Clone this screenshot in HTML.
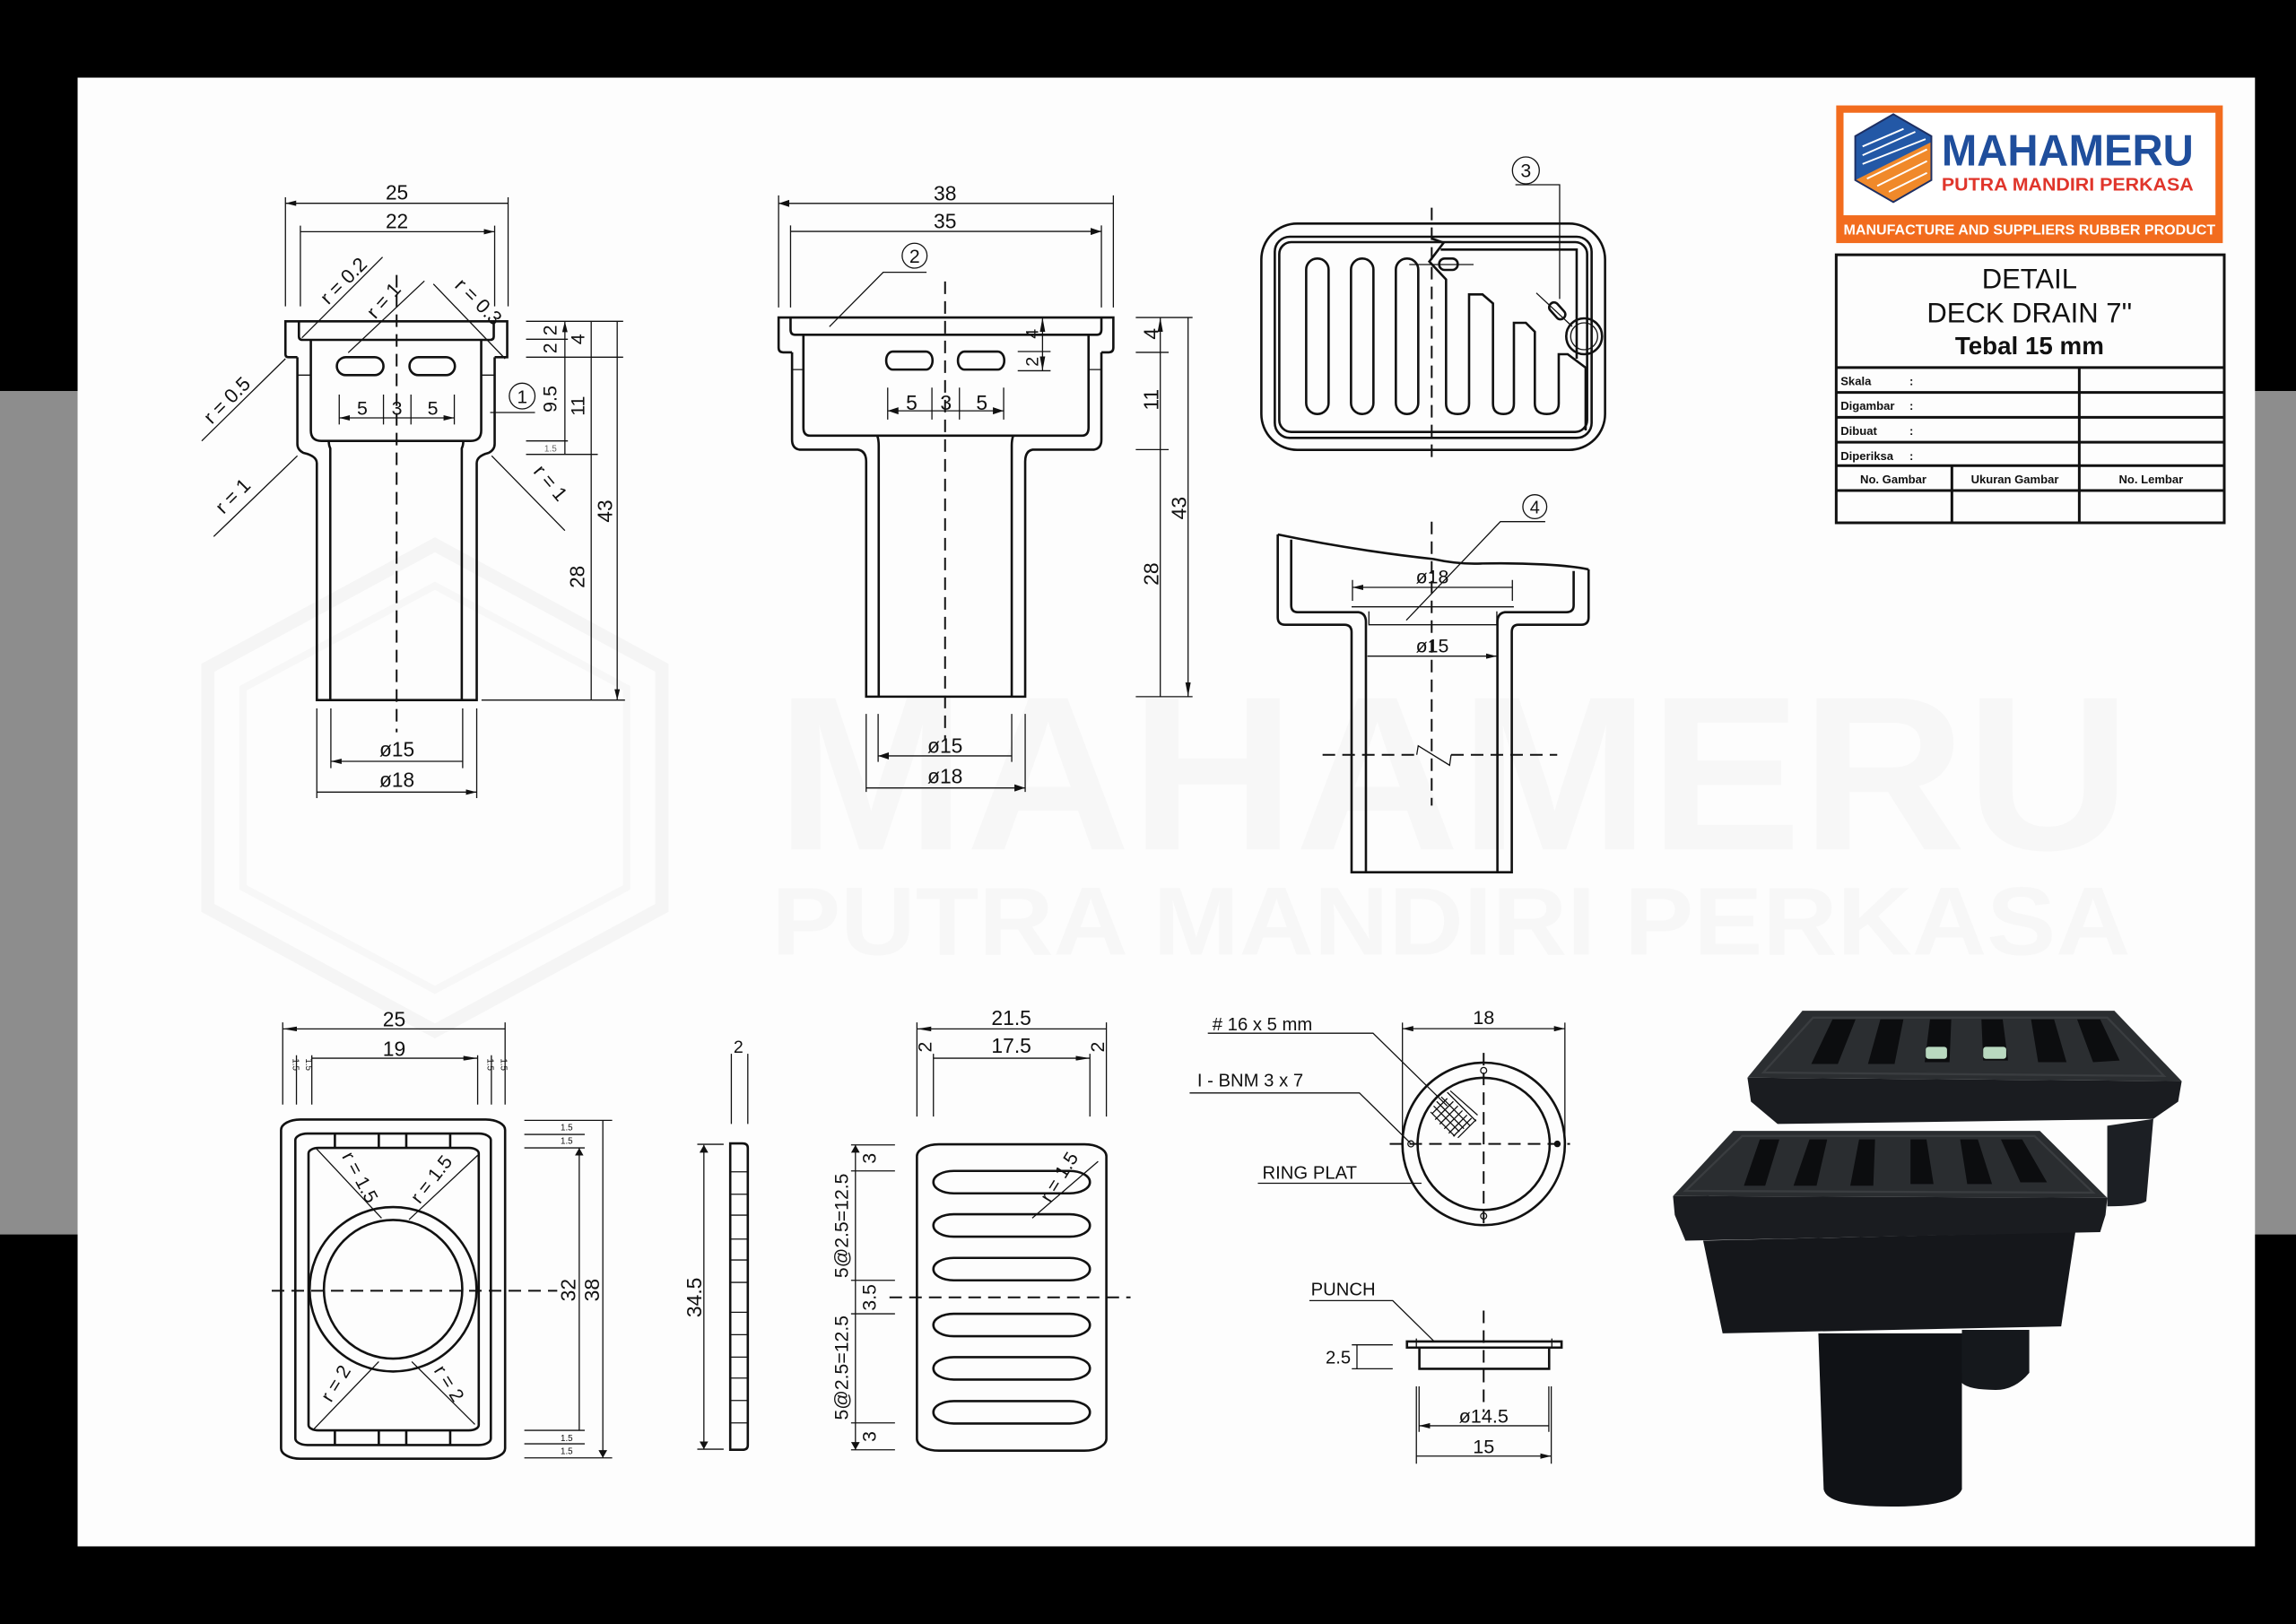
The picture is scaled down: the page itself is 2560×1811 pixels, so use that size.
<!DOCTYPE html>
<html><head><meta charset="utf-8"><style>
html,body{margin:0;padding:0;background:#000;}
svg{display:block}
text{font-family:"Liberation Sans",sans-serif;fill:#111}
.m{fill:none;stroke:#111;stroke-width:2.6;vector-effect:non-scaling-stroke}
.t{fill:none;stroke:#111;stroke-width:1.3;vector-effect:non-scaling-stroke}
.c{fill:none;stroke:#111;stroke-width:2;stroke-dasharray:14 8;vector-effect:non-scaling-stroke}
.tb{fill:none;stroke:#111;stroke-width:3;vector-effect:non-scaling-stroke}
</style></head><body>
<svg width="2560" height="1811" viewBox="0 0 1568 1109" preserveAspectRatio="none" xmlns="http://www.w3.org/2000/svg">
<defs>
<marker id="mA" markerUnits="userSpaceOnUse" markerWidth="36" markerHeight="18" refX="36" refY="9" orient="auto-start-reverse"><path d="M0,0 L36,9 L0,18z" fill="#111"/></marker>
<marker id="mC" markerUnits="userSpaceOnUse" markerWidth="26" markerHeight="16" refX="26" refY="8" orient="auto-start-reverse"><path d="M0,0 L26,8 L0,16z" fill="#111"/></marker>
</defs>
<rect x="0" y="0" width="1568" height="1109" fill="#000"/>
<rect x="0" y="267" width="1568" height="576" fill="#8d8d8d"/>
<rect x="53" y="53" width="1487" height="1003" fill="#fdfdfd"/>
<!-- watermark -->
<text x="530" y="580" font-size="150" font-weight="bold" textLength="925" lengthAdjust="spacingAndGlyphs" style="fill:#f7f7f7">MAHAMERU</text>
<text x="527" y="652" font-size="66" font-weight="bold" textLength="928" lengthAdjust="spacingAndGlyphs" style="fill:#f7f7f7">PUTRA MANDIRI PERKASA</text>
<polygon points="297,372 452,456 452,620 297,704 142,620 142,456" fill="none" stroke="#f5f5f5" stroke-width="9"/>
<polygon points="297,400 428,470 428,606 297,676 166,606 166,470" fill="none" stroke="#f7f7f7" stroke-width="5"/>

<!-- VIEW 1 (zoom5) -->
<g transform="translate(122.47,110.23) scale(0.20412)">
<path class="m" d="M395,655 H365 Q355,655 355,645 V535 H1097 V655 H1055"/>
<path class="m" d="M400,535 V585 Q400,597 412,597 H1040 Q1052,597 1052,585 V535"/>
<path class="m" d="M395,655 V945 Q395,965 415,975 Q460,985 460,1010 V1802 H995 V1010 Q995,985 1035,975 Q1055,965 1055,945 V655"/>
<path class="m" d="M440,598 V900 Q440,935 475,935 H975 Q1010,935 1010,900 V598"/>
<path class="m" d="M500,935 Q500,950 505,960 V1802 M950,935 Q950,950 945,960 V1802"/>
<path class="t" d="M395,715 H440 M1010,715 H1055"/>
<rect class="m" x="527" y="655" width="156" height="60" rx="30"/>
<rect class="m" x="770" y="655" width="152" height="60" rx="30"/>
<path class="c" d="M727,380 V1910"/>
<path class="t" d="M355,120 V485 M1100,120 V485 M405,215 V485 M1055,215 V485"/>
<path class="t" d="M355,140 H1100 M405,235 H1055" marker-start="url(#mA)" marker-end="url(#mA)"/>
<text x="728" y="128" font-size="68" text-anchor="middle">25</text>
<text x="728" y="223" font-size="68" text-anchor="middle">22</text>
<path class="t" d="M535,780 V880 M683,780 V880 M775,780 V880 M920,780 V880"/>
<path class="t" d="M535,858 H683 M683,858 H775 M775,858 H920" marker-start="url(#mA)" marker-end="url(#mA)"/>
<text x="612" y="848" font-size="64" text-anchor="middle">5</text>
<text x="728" y="848" font-size="64" text-anchor="middle">3</text>
<text x="848" y="848" font-size="64" text-anchor="middle">5</text>
<circle class="t" cx="1147" cy="785" r="43"/>
<text x="1147" y="808" font-size="62" text-anchor="middle">1</text>
<path class="t" d="M1040,840 H1190"/>
<path class="t" d="M410,590 L680,320 M565,640 L820,400 M850,410 L1090,660 M355,660 L75,935 M395,985 L115,1255 M1045,985 L1290,1235"/>
<text font-size="66" text-anchor="middle" transform="translate(565,415) rotate(-45)">r = 0.2</text>
<text font-size="66" text-anchor="middle" transform="translate(700,480) rotate(-48)">r = 1</text>
<text font-size="66" text-anchor="middle" transform="translate(985,485) rotate(45)">r = 0.3</text>
<text font-size="66" text-anchor="middle" transform="translate(175,815) rotate(-45)">r = 0.5</text>
<text font-size="66" text-anchor="middle" transform="translate(195,1135) rotate(-45)">r = 1</text>
<text font-size="66" text-anchor="middle" transform="translate(1225,1090) rotate(50)">r = 1</text>
<path class="t" d="M1160,535 H1485 M1160,595 H1300 M1160,655 H1485 M1160,935 H1300 M1160,980 H1400 M1011,1802 H1491"/>
<path class="t" d="M1290,535 V595 M1290,595 V655 M1290,655 V935 M1290,935 V980 M1378,535 V655 M1378,655 V980 M1378,980 V1802 M1465,535 V1802" marker-start="url(#mA)" marker-end="url(#mA)"/>
<text font-size="64" text-anchor="middle" transform="translate(1262,565) rotate(-90)">2</text>
<text font-size="64" text-anchor="middle" transform="translate(1262,625) rotate(-90)">2</text>
<text font-size="64" text-anchor="middle" transform="translate(1262,795) rotate(-90)">9.5</text>
<text font-size="30" text-anchor="middle" x="1242" y="970" style="fill:#666">1.5</text>
<text font-size="64" text-anchor="middle" transform="translate(1355,595) rotate(-90)">4</text>
<text font-size="64" text-anchor="middle" transform="translate(1355,818) rotate(-90)">11</text>
<text font-size="68" text-anchor="middle" transform="translate(1355,1390) rotate(-90)">28</text>
<text font-size="68" text-anchor="middle" transform="translate(1448,1170) rotate(-90)">43</text>
<path class="t" d="M460,1830 V2130 M995,1830 V2130 M507,1830 V2030 M948,1830 V2030"/>
<path class="t" d="M507,2007 H948 M460,2110 H995" marker-start="url(#mA)" marker-end="url(#mA)"/>
<text x="728" y="1990" font-size="68" text-anchor="middle">ø15</text>
<text x="728" y="2093" font-size="68" text-anchor="middle">ø18</text>
</g>

<!-- VIEW 2 -->
<g transform="translate(520.5,122.5) scale(0.20412,0.2734)">
<path class="m" d="M100,432 H70 Q55,432 55,420 V345 H1175 V420 Q1175,432 1160,432 H1135"/>
<path class="m" d="M95,345 V375 Q95,388 110,388 H1120 Q1135,388 1135,375 V345"/>
<path class="m" d="M100,432 V650 Q100,672 125,675 H320 Q348,678 348,705 V1292 H880 V705 Q880,678 905,675 H1110 Q1135,672 1135,650 V432"/>
<path class="t" d="M100,475 H138 M1095,475 H1135"/>
<path class="m" d="M138,388 V620 Q138,640 160,640 H1070 Q1092,640 1092,620 V388"/>
<path class="m" d="M385,640 Q390,650 390,665 V1292 M840,640 Q835,650 835,665 V1292"/>
<rect class="m" x="415" y="430" width="155" height="45" rx="22"/>
<rect class="m" x="655" y="430" width="155" height="45" rx="22"/>
<path class="c" d="M612,255 V1400"/>
<path class="t" d="M55,40 V320 M1175,40 V320 M95,115 V320 M1135,115 V320"/>
<path class="t" d="M55,60 H1175 M95,130 H1135" marker-start="url(#mA)" marker-end="url(#mA)"/>
<path class="t" d="M550,232 H405 L225,368"/>
<path class="t" d="M855,430 H965 M855,478 H965"/>
<path class="t" d="M938,345 V430 M938,430 V478" marker-start="url(#mA)" marker-end="url(#mA)"/>
<path class="t" d="M420,520 V600 M568,520 V600 M660,520 V600 M808,520 V600"/>
<path class="t" d="M420,578 H568 M568,578 H660 M660,578 H808" marker-start="url(#mA)" marker-end="url(#mA)"/>
<path class="t" d="M1250,345 H1440 M1250,432 H1360 M1250,675 H1360 M1250,1292 H1440"/>
<path class="t" d="M1332,345 V432 M1332,432 V675 M1332,675 V1292 M1425,345 V1292" marker-start="url(#mA)" marker-end="url(#mA)"/>
<path class="t" d="M348,1335 V1530 M880,1335 V1530 M388,1335 V1455 M835,1335 V1455"/>
<path class="t" d="M388,1440 H835 M348,1520 H880" marker-start="url(#mA)" marker-end="url(#mA)"/>
</g>
<g font-size="14" text-anchor="middle">
<text x="645.4" y="137">38</text>
<text x="645.4" y="156">35</text>
<text x="645.4" y="514">ø15</text>
<text x="645.4" y="535">ø18</text>
<text x="622.6" y="280">5</text><text x="646" y="280">3</text><text x="670.5" y="280">5</text>
<text transform="translate(709,228) rotate(-90)" font-size="12">4</text>
<text transform="translate(709,247) rotate(-90)" font-size="12">2</text>
<text transform="translate(791,228) rotate(-90)">4</text>
<text transform="translate(791,273) rotate(-90)">11</text>
<text transform="translate(791,392) rotate(-90)">28</text>
<text transform="translate(810,347) rotate(-90)">43</text>
</g>
<circle class="t" cx="624.6" cy="174.6" r="8.5"/>
<text x="624.6" y="179.5" font-size="13" text-anchor="middle">2</text>

<!-- VIEW 3 -->
<g transform="translate(851.2,97.98) scale(0.20412)">
<rect class="m" x="50" y="268" width="1150" height="757" rx="120"/>
<rect class="m" x="95" y="312" width="1060" height="673" rx="50"/>
<rect class="m" x="110" y="330" width="1030" height="635" rx="40"/>
<rect class="m" x="200" y="385" width="75" height="520" rx="37"/>
<rect class="m" x="350" y="385" width="75" height="520" rx="37"/>
<rect class="m" x="500" y="385" width="75" height="520" rx="37"/>
<path class="m" d="M620,318 L660,332 L612,395 L668,455 V870 Q668,905 707,905 Q745,905 745,870 V505 H790 L825,535 V870 Q825,905 860,905 Q895,905 895,870 V600 H935 L965,630 V870 Q965,905 1005,905 Q1045,905 1045,870 V705 H1075 L1135,750 V960"/>
<path class="m" d="M650,355 H1105 V720"/>
<path class="c" d="M620,215 V1065"/>
<path class="t" d="M545,405 H760"/>
<rect class="m" x="645" y="385" width="62" height="38" rx="18"/>
<path class="t" d="M970,500 L1090,612"/>
<rect class="m" x="-32" y="-16" width="64" height="32" rx="15" transform="translate(1040,560) rotate(48)"/>
<circle class="m" cx="1130" cy="645" r="60"/>
<circle class="t" cx="1130" cy="645" r="45"/>
<circle class="t" cx="935" cy="90" r="45"/>
<text x="935" y="113" font-size="64" text-anchor="middle">3</text>
<path class="t" d="M900,138 H1048 V520"/>
</g>

<!-- VIEW 4 -->
<g transform="translate(857.3,330.7) scale(0.20412)">
<path class="m" d="M75,168 V445 Q75,470 100,470 H298 Q322,470 322,495 V1298 H858 V495 Q858,470 880,470 H1090 Q1115,470 1115,445 V285"/>
<path class="m" d="M75,168 C300,215 500,240 595,250 C650,262 700,268 760,265 C900,262 1050,270 1115,285"/>
<path class="m" d="M120,185 V405 Q120,428 142,428 H345 Q370,432 370,460 V1298 M1065,290 V405 Q1065,428 1040,428 H835 Q810,432 810,460 V1298"/>
<path class="t" d="M322,410 H865 M380,425 V470 H808 V425"/>
<path class="c" d="M590,125 V1075"/>
<path class="t" d="M325,320 V390 M860,320 V390"/>
<path class="t" d="M325,345 H860 M375,575 H808" marker-start="url(#mA)" marker-end="url(#mA)"/>
<text x="592" y="332" font-size="64" text-anchor="middle">ø18</text>
<text x="592" y="562" font-size="64" text-anchor="middle">ø15</text>
<path class="c" d="M225,905 H540 M655,905 H1010"/>
<path class="t" d="M540,905 L545,875 L650,940 L655,905"/>
<circle class="t" cx="935" cy="75" r="40"/>
<text x="935" y="97" font-size="60" text-anchor="middle">4</text>
<path class="t" d="M970,125 H820 L505,455"/>
</g>

<!-- BOTTOM LEFT -->
<g transform="translate(183.7,685.9) scale(0.375,0.20412)">
<rect class="m" x="22" y="385" width="408" height="1135" rx="35"/>
<rect class="m" x="48" y="432" width="356" height="1042" rx="22"/>
<rect class="m" x="72" y="480" width="310" height="945" rx="18"/>
<path class="m" d="M120,432 V480 M200,432 V480 M250,432 V480 M330,432 V480 M120,1425 V1474 M200,1425 V1474 M250,1425 V1474 M330,1425 V1474"/>
<ellipse class="m" cx="226" cy="953" rx="152" ry="275"/>
<ellipse class="m" cx="226" cy="953" rx="126" ry="232"/>
<path class="t" d="M85,480 L205,715 M380,505 L255,720 M82,1420 L200,1195 M375,1405 L260,1195"/>
<path class="c" d="M5,958 H525"/>
<path class="t" d="M25,60 V335 M430,60 V335 M50,170 V335 M78,170 V335 M380,170 V335 M405,170 V335"/>
<path class="t" d="M25,82 H430 M78,180 H380" marker-start="url(#mC)" marker-end="url(#mC)"/>
<path class="t" d="M465,388 H625 M465,435 H575 M465,480 H575 M465,1425 H575 M465,1470 H575 M465,1517 H625"/>
<path class="t" d="M565,480 V1425 M608,388 V1517" marker-start="url(#mC)" marker-end="url(#mC)"/>
<path class="m" d="M840,465 H862 Q872,465 872,480 V1475 Q872,1490 862,1490 H840 Z"/>
<path class="t" d="M840,560 H872 M840,635 H872 M840,705 H872 M840,785 H872 M840,855 H872 M840,930 H872 M840,1030 H872 M840,1105 H872 M840,1180 H872 M840,1250 H872 M840,1325 H872 M840,1400 H872"/>
<path class="t" d="M842,165 V400 M872,165 V400 M780,468 H828 M780,1488 H828"/>
<path class="t" d="M792,470 V1488" marker-start="url(#mC)" marker-end="url(#mC)"/>
<rect class="m" x="1180" y="468" width="345" height="1025" rx="40"/>
<rect class="m" x="1210" y="557" width="285" height="75" rx="37"/>
<rect class="m" x="1210" y="702" width="285" height="75" rx="37"/>
<rect class="m" x="1210" y="848" width="285" height="75" rx="37"/>
<rect class="m" x="1210" y="1035" width="285" height="75" rx="37"/>
<rect class="m" x="1210" y="1180" width="285" height="75" rx="37"/>
<rect class="m" x="1210" y="1327" width="285" height="75" rx="37"/>
<path class="t" d="M1180,60 V375 M1525,60 V375 M1210,165 V375 M1495,165 V375"/>
<path class="t" d="M1180,82 H1525 M1210,180 H1495" marker-start="url(#mC)" marker-end="url(#mC)"/>
<path class="t" d="M1060,470 H1140 M1060,557 H1140 M1060,923 H1140 M1060,1035 H1140 M1060,1400 H1140 M1060,1490 H1140"/>
<path class="t" d="M1068,470 V1490" marker-start="url(#mC)" marker-end="url(#mC)"/>
<path class="c" d="M1130,980 H1569"/>
<path class="t" d="M1390,715 L1510,525"/>
</g>
<g font-size="14" text-anchor="middle">
<text x="269.2" y="701">25</text>
<text x="269.2" y="721">19</text>
<text x="504.3" y="719" font-size="12">2</text>
<text transform="translate(479,886) rotate(-90)">34.5</text>
<text transform="translate(393,881) rotate(-90)">32</text>
<text transform="translate(409,881) rotate(-90)">38</text>
<text x="690.7" y="700">21.5</text>
<text x="690.7" y="719">17.5</text>
<text transform="translate(636,715) rotate(-90)" font-size="13">2</text>
<text transform="translate(754,715) rotate(-90)" font-size="13">2</text>
<text transform="translate(598,791) rotate(-90)" font-size="13">3</text>
<text transform="translate(579,837) rotate(-90)" font-size="13">5@2.5=12.5</text>
<text transform="translate(598,886) rotate(-90)" font-size="13">3.5</text>
<text transform="translate(579,934) rotate(-90)" font-size="13">5@2.5=12.5</text>
<text transform="translate(598,981) rotate(-90)" font-size="13">3</text>
<text transform="translate(242,806) rotate(62)" font-size="13">r = 1.5</text>
<text transform="translate(298,808) rotate(-52)" font-size="13">r = 1.5</text>
<text transform="translate(233,947) rotate(-58)" font-size="13">r = 2</text>
<text transform="translate(303,947) rotate(58)" font-size="13">r = 2</text>
<text transform="translate(727,806) rotate(-58)" font-size="13">r = 1.5</text>
</g>
<g font-size="6" text-anchor="middle" style="fill:#555">
<text transform="translate(200,727) rotate(90)">1.5</text>
<text transform="translate(209,727) rotate(90)">1.5</text>
<text transform="translate(333,727) rotate(90)">1.5</text>
<text transform="translate(342,727) rotate(90)">1.5</text>
<text x="387" y="772">1.5</text><text x="387" y="781">1.5</text>
<text x="387" y="984">1.5</text><text x="387" y="993">1.5</text>
</g>

<!-- RING PLAT -->
<g transform="translate(808.3,679.7) scale(0.2070)">
<circle class="m" cx="990" cy="490" r="268"/>
<circle class="m" cx="990" cy="490" r="218"/>
<circle class="t" cx="990" cy="248" r="10"/>
<circle class="t" cx="990" cy="728" r="10" fill="#111"/>
<circle class="t" cx="750" cy="490" r="10"/>
<circle cx="1233" cy="490" r="11" fill="#111"/>
<path class="c" d="M680,490 H1275 M990,190 V775"/>
<path class="t" d="M820,390 L870,340 M830,410 L890,350 M845,425 L905,365 M860,440 L920,380 M875,455 L935,395 M890,465 L950,405 M905,470 L965,410"/>
<path class="t" d="M870,320 L965,415 M850,335 L945,430 M835,350 L925,440 M825,365 L910,450 M815,385 L895,465 M880,315 L970,395"/>
<path class="t" d="M722,90 V480 M1258,90 V480"/>
<path class="t" d="M722,110 H1258" marker-start="url(#mA)" marker-end="url(#mA)"/>
<text x="990" y="95" font-size="64" text-anchor="middle">18</text>
<text x="95" y="115" font-size="60">#  16  x  5  mm</text>
<path class="t" d="M80,125 H625 L870,365"/>
<text x="45" y="300" font-size="60">I  -  BNM  3 x 7</text>
<path class="t" d="M20,322 H580 L748,487"/>
<text x="260" y="605" font-size="60">RING PLAT</text>
<path class="t" d="M245,620 H785"/>
<text x="420" y="990" font-size="60">PUNCH</text>
<path class="t" d="M415,1007 H690 L825,1140"/>
<rect class="m" x="737" y="1142" width="510" height="20"/>
<rect class="m" x="778" y="1162" width="428" height="70"/>
<path class="t" d="M768,1132 V1165 M1215,1132 V1165"/>
<path class="c" d="M990,1040 V1375"/>
<path class="t" d="M555,1153 H690 M555,1232 H690 M572,1153 V1232"/>
<text x="510" y="1215" font-size="60" text-anchor="middle">2.5</text>
<path class="t" d="M777,1290 V1440 M1205,1290 V1440 M768,1290 V1545 M1213,1290 V1545"/>
<path class="t" d="M777,1420 H1205 M768,1520 H1213" marker-start="url(#mA)" marker-end="url(#mA)"/>
<text x="990" y="1410" font-size="64" text-anchor="middle">ø14.5</text>
<text x="990" y="1510" font-size="64" text-anchor="middle">15</text>
</g>

<!-- PHOTO -->
<g transform="translate(1126.8,679.7) scale(0.2421,0.2343)">
<path d="M1420,360 L1400,600 Q1380,615 1290,615 L1290,380 Z" fill="#1c1f24"/>
<path d="M880,975 H1070 V1100 Q1030,1150 975,1150 Q900,1150 880,1130 Z" fill="#15181c"/>
<path d="M275,240 L1500,250 L1490,310 L1420,360 L360,375 L285,310 Z" fill="#1a1c20"/>
<path d="M430,45 L1310,45 L1500,250 L275,240 Z" fill="#2b2e31"/>
<path d="M460,65 L1290,65 L1450,235 L320,225 Z" fill="none" stroke="#3a3d40" stroke-width="6"/>
<g fill="#0c0d0f">
<path d="M515,70 L580,70 L530,200 L455,200 Z"/>
<path d="M650,70 L715,70 L690,200 L615,200 Z"/>
<path d="M790,70 L850,70 L845,195 L775,195 Z"/>
<path d="M935,70 L995,70 L1010,190 L940,190 Z"/>
<path d="M1075,70 L1140,70 L1175,195 L1095,195 Z"/>
<path d="M1205,70 L1270,70 L1325,190 L1250,195 Z"/>
</g>
<rect x="778" y="150" width="60" height="35" rx="8" fill="#b9d9c0"/>
<rect x="940" y="150" width="65" height="35" rx="8" fill="#b9d9c0"/>
<path d="M150,715 L1200,690 L1160,965 L205,985 Z" fill="#15171b"/>
<path d="M65,585 L1290,590 L1285,640 L1270,690 L100,715 L70,640 Z" fill="#1a1c20"/>
<path d="M235,395 L1100,395 L1290,590 L65,585 Z" fill="#2a2d30"/>
<path d="M260,410 L1085,410 L1250,575 L100,570 Z" fill="none" stroke="#3a3d40" stroke-width="6"/>
<g fill="#0c0d0f">
<path d="M310,420 L365,420 L325,555 L265,555 Z"/>
<path d="M450,420 L500,420 L470,555 L405,555 Z"/>
<path d="M590,420 L635,420 L630,555 L565,555 Z"/>
<path d="M735,420 L780,420 L800,550 L735,550 Z"/>
<path d="M875,420 L925,420 L965,550 L895,550 Z"/>
<path d="M990,420 L1050,420 L1120,545 L1045,545 Z"/>
</g>
<path d="M475,985 H880 V1440 Q860,1490 680,1490 Q500,1490 490,1440 Z" fill="#101216"/>
</g>

<!-- LOGO -->
<rect x="1254" y="72" width="264" height="94" fill="#f26c1e"/>
<rect x="1259" y="77" width="254" height="70" fill="#fff"/>
<polygon points="1293,78 1319,93 1319,123 1293,138 1267,123 1267,93" fill="#f0892a"/>
<polygon points="1293,78 1319,93 1319,97 1267,123 1267,93" fill="#2358a6"/>
<polygon points="1293,78 1319,93 1319,123 1293,138 1267,123 1267,93" fill="none" stroke="#1d2f63" stroke-width="1.2"/>
<g stroke="#fff" stroke-width="1.2" fill="none">
<path d="M1272,100 L1300,88 M1272,106 L1308,90 M1272,112 L1315,95"/>
<path d="M1275,122 L1316,102 M1282,127 L1316,110 M1290,131 L1316,118"/>
</g>
<text x="1412" y="113" font-size="30" font-weight="bold" text-anchor="middle" style="fill:#1f4e9c" textLength="172" lengthAdjust="spacingAndGlyphs">MAHAMERU</text>
<text x="1412" y="130" font-size="12.5" font-weight="bold" text-anchor="middle" style="fill:#e0352b" textLength="172" lengthAdjust="spacingAndGlyphs">PUTRA MANDIRI PERKASA</text>
<text x="1386" y="160" font-size="9.5" font-weight="bold" text-anchor="middle" style="fill:#fff" textLength="254" lengthAdjust="spacingAndGlyphs">MANUFACTURE AND SUPPLIERS RUBBER PRODUCT</text>

<!-- TITLE TABLE -->
<rect x="1254" y="174" width="265" height="183" fill="#fff" class="tb"/>
<text x="1386" y="197" font-size="19" text-anchor="middle">DETAIL</text>
<text x="1386" y="220" font-size="19" text-anchor="middle">DECK DRAIN 7''</text>
<text x="1386" y="242" font-size="17" text-anchor="middle" font-weight="bold">Tebal 15 mm</text>
<path class="tb" d="M1254,251 H1519 M1254,268 H1519 M1254,285 H1519 M1254,302 H1519 M1254,318 H1519 M1254,335 H1519 M1420,251 V357 M1333,318 V357"/>
<g font-size="8" font-weight="bold">
<text x="1257" y="263">Skala</text><text x="1304" y="263">:</text>
<text x="1257" y="280">Digambar</text><text x="1304" y="280">:</text>
<text x="1257" y="297">Dibuat</text><text x="1304" y="297">:</text>
<text x="1257" y="314">Diperiksa</text><text x="1304" y="314">:</text>
<text x="1293" y="330" text-anchor="middle">No. Gambar</text>
<text x="1376" y="330" text-anchor="middle">Ukuran Gambar</text>
<text x="1469" y="330" text-anchor="middle">No. Lembar</text>
</g>
</svg>
</body></html>
